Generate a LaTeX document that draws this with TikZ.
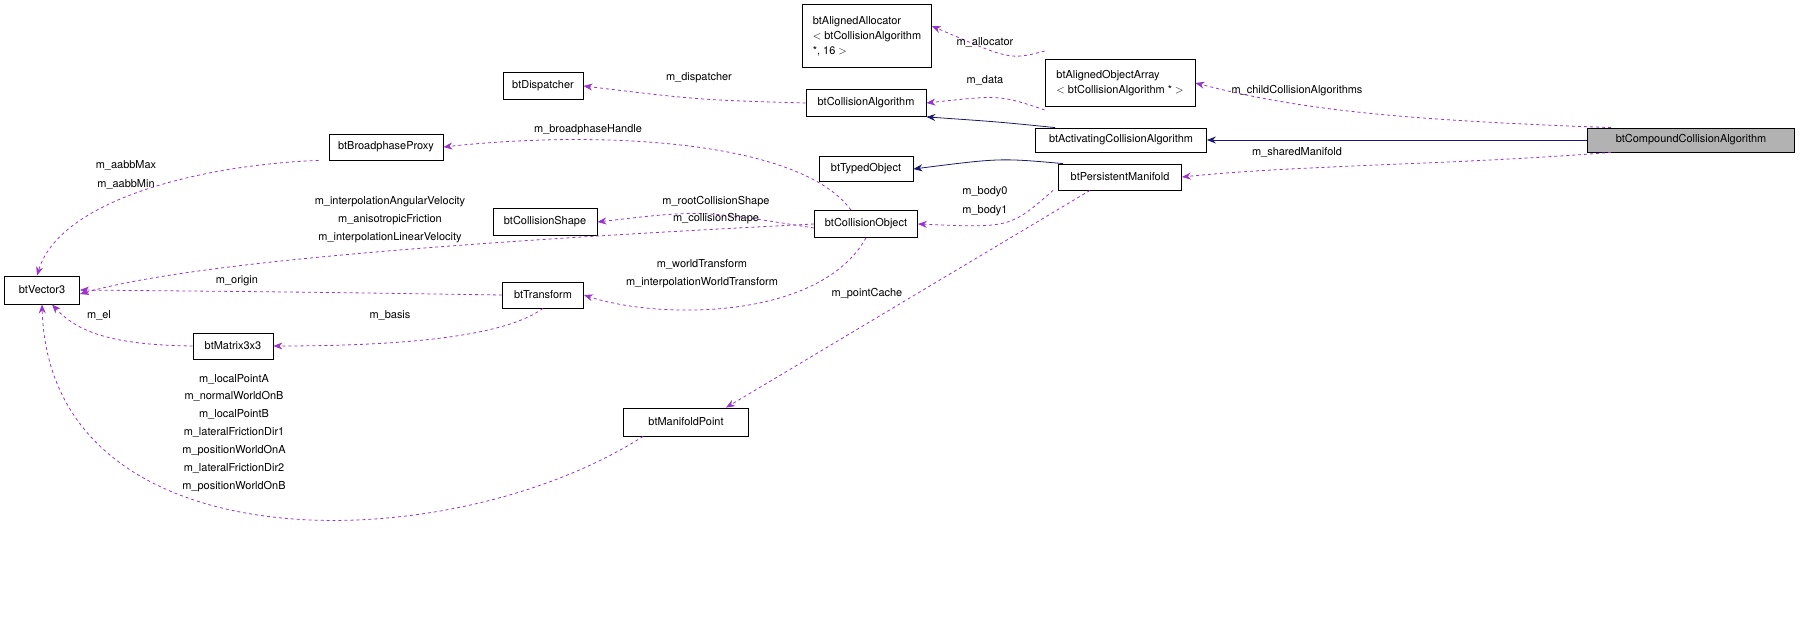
\documentclass[tikz,border=0pt]{standalone}
\usepackage{fontspec}
\setmainfont{TeX Gyre Heros}
\usetikzlibrary{arrows.meta}
\definecolor{usec}{RGB}{154,50,205}
\definecolor{inhc}{RGB}{25,25,112}
\begin{document}
\begin{tikzpicture}[x=1bp,y=-1bp,
  box/.style={draw,thick,fill=white,inner sep=4pt,font=\fontsize{11}{15}\selectfont,align=left},
  lab/.style={font=\fontsize{11}{13}\selectfont,align=center},
  use/.style={draw=usec,dashed,thick,-{Stealth[length=9pt,width=7pt]}},
  inh/.style={draw=inhc,thick,-{Stealth[length=9pt,width=7pt]}}]
\useasboundingbox (0,0) rectangle (1813,624);
\node[box,fill=gray!60,minimum width=207bp,minimum height=24bp] (cca) at (1691,140) {btCompoundCollisionAlgorithm};
\node[box,minimum width=171bp,minimum height=24bp] (aca) at (1121,140) {btActivatingCollisionAlgorithm};
\node[box,minimum width=150bp,minimum height=47bp] (aoa) at (1120,83) {btAlignedObjectArray\\$<$ btCollisionAlgorithm * $>$};
\node[box,minimum width=129bp,minimum height=63bp] (aal) at (867,36) {btAlignedAllocator\\$<$ btCollisionAlgorithm\\*, 16 $>$};
\node[box,minimum width=120bp,minimum height=27bp] (ca) at (866,103) {btCollisionAlgorithm};
\node[box,minimum width=80bp,minimum height=27bp] (dis) at (543,86) {btDispatcher};
\node[box,minimum width=114bp,minimum height=26bp] (bp) at (386,147) {btBroadphaseProxy};
\node[box,minimum width=94bp,minimum height=25bp] (to) at (866,169) {btTypedObject};
\node[box,minimum width=123bp,minimum height=26bp] (pm) at (1120,177) {btPersistentManifold};
\node[box,minimum width=104bp,minimum height=27bp] (cs) at (545,222) {btCollisionShape};
\node[box,minimum width=103bp,minimum height=27bp] (co) at (866,224) {btCollisionObject};
\node[box,minimum width=75bp,minimum height=28bp] (v3) at (42,290) {btVector3};
\node[box,minimum width=81bp,minimum height=26bp] (tr) at (543,295) {btTransform};
\node[box,minimum width=80bp,minimum height=26bp] (m3) at (233,346) {btMatrix3x3};
\node[box,minimum width=125bp,minimum height=28bp] (mp) at (686,422) {btManifoldPoint};
\coordinate (v3a) at ([xshift=-5bp]v3.north);
\coordinate (v3b) at (v3.south);

\draw[inh] (cca.west) -- (aca.east);
\draw[inh] ([xshift=20bp]aca.north west) .. controls (1000,122) .. (ca.south east);
\draw[inh] ([xshift=5bp]pm.north west) .. controls (1000,158) .. (to.east);
\draw[use] ([xshift=-80bp]cca.north) .. controls (1400,120) and (1300,110) .. (aoa.east);
\node[lab] at (1297,91) {m\_childCollisionAlgorithms};
\draw[use] ([xshift=-80bp]cca.south) .. controls (1450,165) and (1300,165) .. (pm.east);
\node[lab] at (1297,152) {m\_sharedManifold};
\draw[use] ([yshift=8bp]aoa.north west) .. controls (1010,60) .. ([yshift=10bp]aal.east);
\node[lab] at (985,42) {m\_allocator};
\draw[use] ([yshift=-3bp]aoa.south west) .. controls (1000,95) .. (ca.east);
\node[lab] at (985,80) {m\_data};
\draw[use] (ca.west) .. controls (700,100) .. (dis.east);
\node[lab] at (699,78) {m\_dispatcher};
\draw[use] ([xshift=-15bp]co.north) .. controls (800,140) and (600,130) .. (bp.east);
\node[lab] at (588,130) {m\_broadphaseHandle};
\draw[use] ([xshift=-5bp]pm.south west) .. controls (1010,228) .. (co.east);
\node[lab] at (985,192) {m\_body0}; \node[lab] at (985,211) {m\_body1};
\draw[use] ([yshift=-4bp]co.west) .. controls (700,210) .. (cs.east);
\node[lab] at (716,202) {m\_rootCollisionShape}; \node[lab] at (716,219) {m\_collisionShape};
\draw[use] (co.west) .. controls (500,240) and (200,260) .. ([yshift=-4bp]v3.east);
\node[lab] at (390,202) {m\_interpolationAngularVelocity};
\node[lab] at (390,220) {m\_anisotropicFriction};
\node[lab] at (390,238) {m\_interpolationLinearVelocity};
\draw[use] (co.south) .. controls (820,320) and (660,320) .. (tr.east);
\node[lab] at (702,264) {m\_worldTransform}; \node[lab] at (702,283) {m\_interpolationWorldTransform};
\draw[use] ([xshift=-10bp]bp.south west) .. controls (200,165) and (60,200) .. (v3a);
\node[lab] at (126,165) {m\_aabbMax}; \node[lab] at (126,184) {m\_aabbMin};
\draw[use] (tr.west) .. controls (300,292) .. (v3.east);
\node[lab] at (237,281) {m\_origin};
\draw[use] (tr.south) .. controls (500,340) and (380,346) .. (m3.east);
\node[lab] at (390,315) {m\_basis};
\draw[use] (m3.west) .. controls (120,345) and (80,335) .. ([xshift=10bp]v3.south);
\node[lab] at (99,315) {m\_el};
\draw[use] ([xshift=-30bp]pm.south) -- ([xshift=40bp]mp.north);
\node[lab] at (867,294) {m\_pointCache};
\draw[use] ([xshift=20bp]mp.south west) .. controls (450,560) and (50,570) .. (v3b);
\node[lab,align=center] at (234,433) {m\_localPointA\\[5pt]m\_normalWorldOnB\\[5pt]m\_localPointB\\[5pt]m\_lateralFrictionDir1\\[5pt]m\_positionWorldOnA\\[5pt]m\_lateralFrictionDir2\\[5pt]m\_positionWorldOnB};
\end{tikzpicture}
\end{document}
